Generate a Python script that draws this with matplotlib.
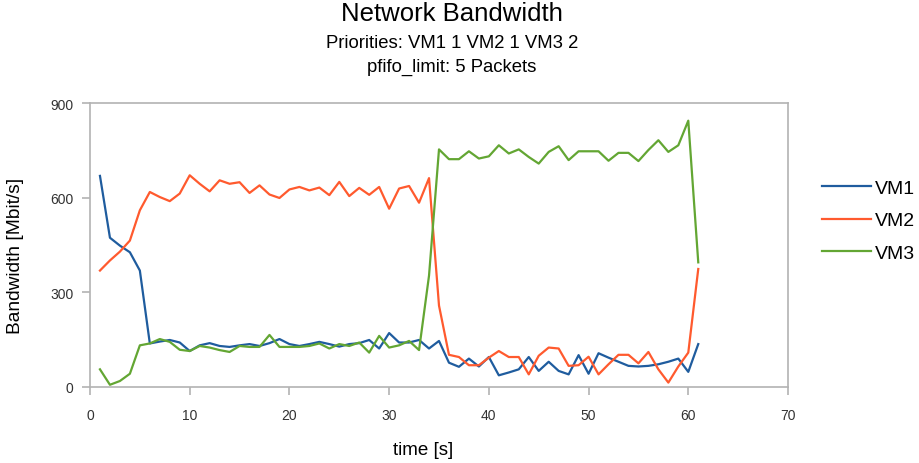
import matplotlib
matplotlib.use("Agg")
import matplotlib.pyplot as plt

time_s = list(range(1, 62))
vm1 = [669, 473, 448, 427, 369, 138, 144, 149, 141, 114, 132, 139, 130, 127, 132, 136, 130, 139, 152, 136,
       130, 136, 143, 136, 128, 136, 139, 149, 122, 171, 141, 141, 149, 122, 146, 77, 64, 90, 65, 95,
       37, 46, 56, 95, 51, 80, 51, 40, 101, 42, 107, 93, 80, 67, 65, 67, 72, 80, 90, 48, 136]
vm2 = [369, 401, 429, 464, 560, 618, 602, 589, 613, 671, 644, 620, 655, 644, 649, 615, 639, 610, 599, 626,
       634, 623, 632, 608, 650, 605, 631, 609, 634, 565, 629, 637, 584, 662, 258, 102, 95, 69, 69, 93,
       114, 95, 95, 40, 99, 125, 122, 67, 69, 96, 40, 72, 102, 102, 75, 111, 56, 14, 65, 109, 374]
vm3 = [56, 7, 19, 42, 132, 138, 152, 143, 118, 114, 130, 125, 117, 111, 130, 127, 127, 165, 127, 127,
       127, 130, 138, 122, 136, 130, 141, 109, 162, 125, 132, 146, 117, 353, 753, 722, 722, 747, 724, 731,
       766, 740, 753, 729, 708, 745, 763, 719, 747, 747, 747, 717, 742, 742, 716, 751, 782, 745, 766, 844, 395]
series_names = ["VM1", "VM2", "VM3"]
colors = ["#1f5c9e", "#ff5a2e", "#63a633"]
x_ticks = [0, 10, 20, 30, 40, 50, 60, 70]
y_ticks = [0, 300, 600, 900]

plt.rcParams['font.family'] = ['Liberation Sans', 'DejaVu Sans']

W, H = 920, 464
fig = plt.figure(figsize=(W/100, H/100), dpi=100)
ax = fig.add_axes([90/W, 1-388/H, (788-90)/W, (388-104)/H])

for name, vals, c in zip(series_names, [vm1, vm2, vm3], colors):
    ax.plot(time_s, vals, color=c, lw=1.6, label=name)

ax.set_xlim(0, 70)
ax.set_ylim(0, 900)
ax.set_xticks(x_ticks)
ax.set_yticks(y_ticks)
for s in ax.spines.values():
    s.set_color("#b3b3b3")
    s.set_linewidth(1.2)
ax.tick_params(axis='both', colors="#b3b3b3", labelcolor="#333333", labelsize=10, length=6, width=1.2, direction='out')
ax.tick_params(axis='x', pad=9)
ax.tick_params(axis='y', pad=6)

fig.text(423/W, 1-451/H, "time [s]", ha='center', va='center', fontsize=13.5)
fig.text(15.5/W, 1-256/H, "Bandwidth [Mbit/s]", ha='center', va='center', fontsize=13.8, rotation=90)

fig.text(452/W, 1-14/H, "Network Bandwidth", ha='center', va='center', fontsize=18.5)
fig.text(452/W, 1-43/H, "Priorities: VM1 1 VM2 1 VM3 2", ha='center', va='center', fontsize=13.3)
fig.text(452/W, 1-67/H, "pfifo_limit: 5 Packets", ha='center', va='center', fontsize=13.3)

handles, labels = ax.get_legend_handles_labels()
leg = fig.legend(handles, labels, loc='upper left', bbox_to_anchor=(822/W, 1-180/H), frameon=False,
                 fontsize=14, handlelength=2.5, labelspacing=0.78, handletextpad=0.2,
                 borderpad=0, borderaxespad=0)

fig.savefig("out.png", dpi=100)
